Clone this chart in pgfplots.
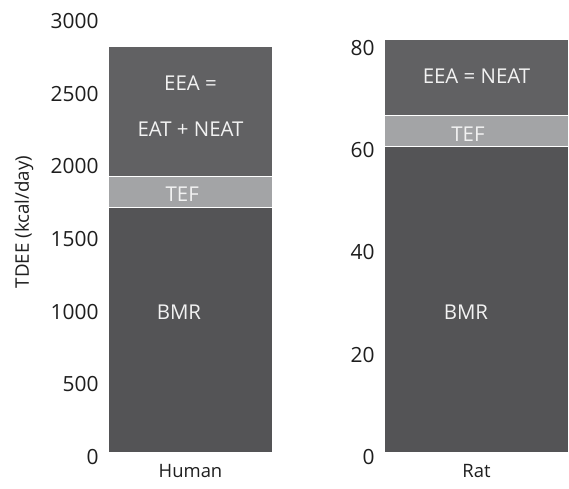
\documentclass[border=0pt]{standalone}
\usepackage{pgfplots}
\pgfplotsset{compat=1.18}
\usepackage{fontspec}
\setmainfont{Open Sans}
\definecolor{bmr}{HTML}{545456}
\definecolor{tef}{HTML}{A3A4A6}
\definecolor{eea}{HTML}{616163}
\definecolor{txt}{HTML}{1E1E1E}
\tikzset{inlab/.style={font=\fontsize{20.5}{23}\selectfont, text=white!95!black}}
\pgfplotsset{
  common/.style={
    scale only axis, anchor=south west,
    ybar stacked, bar width=1,
    xmin=-0.5, xmax=0.5, xtick={0},
    axis line style={draw=none}, major tick length=0,
    /pgf/number format/1000 sep={}, scaled ticks=false,
    /pgf/number format/assume math mode=true,
    yticklabel style={font=\fontsize{21}{23}\selectfont, text=txt, xshift=-6bp, yshift=-4bp},
    xticklabel style={font=\fontsize{18.5}{21}\selectfont, text=txt, yshift=-8bp},
    label style={font=\fontsize{18.8}{21}\selectfont, text=txt},
    every axis plot/.append style={draw=white, line width=1.2bp},
    clip=false,
  },
}
\begin{document}
\begin{tikzpicture}
\path[use as bounding box] (0bp,0bp) rectangle (569bp,489bp);
\begin{axis}[common, at={(108bp,36bp)}, width=165bp, height=436bp,
  ymin=0, ymax=3000, ytick={0,500,...,3000},
  xticklabels={Human},
  ylabel={TDEE (kcal/day)},
  ylabel style={at={(axis description cs:-0.509,0.53)}, anchor=center}]
\addplot[fill=bmr] coordinates {(0,1690)};
\addplot[fill=tef] coordinates {(0,215)};
\addplot[fill=eea] coordinates {(0,890)};
\coordinate (h1) at (axis cs:0,2546);
\coordinate (h2) at (axis cs:0,2229);
\coordinate (h3) at (axis cs:-0.05,1782);
\coordinate (h4) at (axis cs:-0.07,970);
\end{axis}
\begin{axis}[common, at={(384bp,36bp)}, width=185bp, height=419.2bp,
  ymin=0, ymax=82, ytick={0,20,...,80},
  xticklabels={Rat}]
\addplot[fill=bmr] coordinates {(0,60)};
\addplot[fill=tef] coordinates {(0,6)};
\addplot[fill=eea] coordinates {(0,15)};
\coordinate (r1) at (axis cs:0,73.7);
\coordinate (r2) at (axis cs:-0.046,62.3);
\coordinate (r3) at (axis cs:-0.057,27.5);
\end{axis}
\node[inlab] at (h1) {EEA =};
\node[inlab] at (h2) {EAT + NEAT};
\node[inlab] at (h3) {TEF};
\node[inlab] at (h4) {BMR};
\node[inlab] at (r1) {EEA = NEAT};
\node[inlab] at (r2) {TEF};
\node[inlab] at (r3) {BMR};
\end{tikzpicture}
\end{document}
